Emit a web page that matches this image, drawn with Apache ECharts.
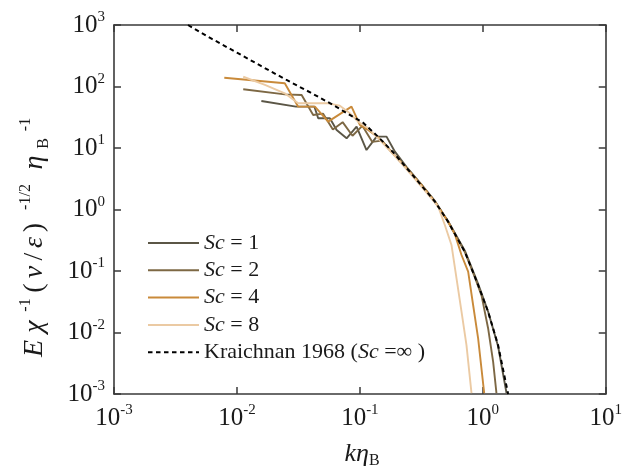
<!DOCTYPE html>
<html>
<head>
<meta charset="utf-8">
<script src="https://cdn.jsdelivr.net/npm/echarts@6/dist/echarts.min.js"></script>
<style>
  html, body { margin: 0; padding: 0; background: #fff; }
  #chart { width: 625px; height: 470px; }
</style>
</head>
<body>
<div id="chart"></div>
<script>
// Scalar spectra, normalised: E chi^-1 (nu/eps)^-1/2 eta_B^-1 versus k eta_B
const seriesNames = ['Sc = 1', 'Sc = 2', 'Sc = 4', 'Sc = 8', 'Kraichnan 1968 (Sc =\u221e )'];
const seriesColors = ['#5b5646', '#7d6844', '#c98a3a', '#ebcaa3', '#000000'];

const kSc1 = [0.0158, 0.0302, 0.0427, 0.0458, 0.0570, 0.0647, 0.0780, 0.0940, 0.1132, 0.1368, 0.1648, 0.1928, 0.240, 0.316, 0.407, 0.522, 0.714, 0.916, 1.104, 1.330, 1.560];
const eSc1 = [58.1, 47.0, 47.0, 30.4, 30.4, 19.6, 14.4, 22.2, 9.27, 15.3, 15.3, 8.71, 4.90, 2.57, 1.38, 0.646, 0.214, 0.0617, 0.0219, 0.00603, 0.00103];

const kSc2 = [0.01125, 0.0245, 0.0336, 0.0417, 0.0501, 0.0603, 0.0724, 0.0871, 0.1047, 0.1259, 0.1514, 0.182, 0.240, 0.316, 0.407, 0.522, 0.714, 0.861, 0.977, 1.104, 1.213, 1.291];
const eSc2 = [90.2, 74.6, 72.8, 34.4, 36.3, 19.95, 26.3, 15.8, 22.9, 12.6, 13.2, 8.51, 4.79, 2.51, 1.35, 0.631, 0.204, 0.0794, 0.0398, 0.01175, 0.00335, 0.00103];

const kSc4 = [0.00789, 0.0245, 0.0315, 0.0431, 0.0552, 0.0855, 0.100, 0.1175, 0.1413, 0.182, 0.240, 0.316, 0.407, 0.522, 0.592, 0.671, 0.760, 0.834, 0.916, 1.026];
const eSc4 = [139, 113, 47.0, 47.0, 26.8, 47.0, 23.7, 19.5, 14.8, 8.51, 4.68, 2.51, 1.35, 0.631, 0.398, 0.182, 0.0975, 0.0280, 0.00805, 0.00103];

const kSc8 = [0.01125, 0.0169, 0.0245, 0.0315, 0.0431, 0.0552, 0.0687, 0.0830, 0.0968, 0.117, 0.150, 0.181, 0.224, 0.271, 0.339, 0.434, 0.491, 0.556, 0.611, 0.671, 0.736, 0.809];
const eSc8 = [144, 106, 77.4, 53.3, 53.3, 53.3, 48.8, 36.6, 26.8, 20.9, 12.6, 8.51, 5.25, 3.39, 2.00, 1.11, 0.560, 0.265, 0.076, 0.0218, 0.00627, 0.00103];

const kKraichnan = [0.00400, 0.00631, 0.0100, 0.0158, 0.0251, 0.0398, 0.0570, 0.0794, 0.1064, 0.1413, 0.1866, 0.271, 0.339, 0.407, 0.522, 0.714, 0.916, 1.104, 1.330, 1.607];
const eKraichnan = [1000, 589, 355, 214, 129, 79.4, 53.7, 36.3, 25.7, 15.1, 8.51, 3.55, 2.09, 1.35, 0.634, 0.206, 0.0592, 0.0218, 0.00627, 0.00100];

// Decade tick exponents shown on the axes
const xTickExponents = [-3, -2, -1, 0, 1];
const yTickExponents = [-3, -2, -1, 0, 1, 2, 3];

const FONT = '"Liberation Serif", "Times New Roman", serif';
const INK = '#1a1a1a';
const AXIS = '#3a3a3a';

function pairs(ks, es) {
  return ks.map((k, i) => [k, es[i]]);
}

const curves = [
  pairs(kSc1, eSc1),
  pairs(kSc2, eSc2),
  pairs(kSc4, eSc4),
  pairs(kSc8, eSc8),
  pairs(kKraichnan, eKraichnan)
];

function decadeLabel(value) {
  const p = Math.round(Math.log10(value));
  return '{b|10}{s|' + (p < 0 ? '-' + (-p) : p) + '}';
}

const xMin = Math.pow(10, xTickExponents[0]);
const xMax = Math.pow(10, xTickExponents[xTickExponents.length - 1]);
const yMin = Math.pow(10, yTickExponents[0]);
const yMax = Math.pow(10, yTickExponents[yTickExponents.length - 1]);

function logAxis(extra) {
  return Object.assign({
    type: 'log',
    logBase: 10,
    splitLine: { show: false },
    minorTick: { show: false },
    axisLine: { show: true, lineStyle: { color: AXIS, width: 1.6 } },
    axisTick: { show: true, inside: true, length: 7, lineStyle: { color: AXIS, width: 1.5 } }
  }, extra);
}

const series = curves.map((data, i) => ({
  name: seriesNames[i],
  type: 'line',
  data: data,
  symbol: 'none',
  showSymbol: false,
  clip: true,
  z: i === 4 ? 5 : 2,
  lineStyle: i === 4
    ? { color: seriesColors[i], width: 2, type: [4.5, 3.5] }
    : { color: seriesColors[i], width: 1.9 },
  itemStyle: { color: seriesColors[i] }
}));

const chart = echarts.init(document.getElementById('chart'), null, { renderer: 'canvas' });

chart.setOption({
  animation: false,
  backgroundColor: '#ffffff',
  grid: { left: 114, right: 19, top: 25, bottom: 76, containLabel: false },
  xAxis: [
    logAxis({
      position: 'bottom',
      min: xMin, max: xMax,
      axisLabel: {
        show: true, margin: 9, showMinLabel: true, showMaxLabel: true,
        formatter: decadeLabel,
        rich: {
          b: { fontFamily: FONT, fontSize: 25, lineHeight: 30, color: INK },
          s: { fontFamily: FONT, fontSize: 15, lineHeight: 8, verticalAlign: 'top', color: INK }
        }
      }
    }),
    logAxis({ position: 'top', min: xMin, max: xMax, axisLabel: { show: false } })
  ],
  yAxis: [
    logAxis({
      position: 'left',
      min: yMin, max: yMax,
      axisLabel: {
        show: true, margin: 9, showMinLabel: true, showMaxLabel: true,
        formatter: decadeLabel,
        rich: {
          b: { fontFamily: FONT, fontSize: 25, lineHeight: 30, color: INK },
          s: { fontFamily: FONT, fontSize: 15, lineHeight: 17, verticalAlign: 'top', color: INK }
        }
      }
    }),
    logAxis({ position: 'right', min: yMin, max: yMax, axisLabel: { show: false } })
  ],
  legend: {
    show: true,
    orient: 'vertical',
    left: 147,
    top: 232,
    padding: 0,
    itemWidth: 51,
    itemHeight: 14,
    itemGap: 5.3,
    selectedMode: false,
    itemStyle: { opacity: 0, borderWidth: 0 },
    lineStyle: { opacity: 1 },
    data: seriesNames,
    formatter: name => name.replace('Sc', '{i|Sc}'),
    textStyle: {
      fontFamily: FONT, fontSize: 22, lineHeight: 22, color: INK,
      rich: {
        i: { fontFamily: FONT, fontSize: 22, lineHeight: 22, fontStyle: 'italic', color: INK }
      }
    }
  },
  graphic: [
    {
      type: 'text',
      x: 362, y: 454,
      silent: true,
      style: {
        text: '{i|k\u03b7}{sub|B}',
        align: 'center',
        verticalAlign: 'middle',
        rich: {
          i: { fontFamily: FONT, fontSize: 26, lineHeight: 30, fontStyle: 'italic', fill: INK },
          sub: { fontFamily: FONT, fontSize: 16, lineHeight: 14, verticalAlign: 'bottom', fill: INK }
        }
      }
    },
    {
      type: 'text',
      x: 35, y: 237,
      rotation: Math.PI / 2,
      silent: true,
      style: {
        text: '{e|E}{g1|\u03c7}{s1|-1}{p1|(}{g2|\u03bd}{sl|/}{g3|\u03b5}{p2|)}{s2|-1/2}{g4|\u03b7}{sb|B}{s3|-1}',
        align: 'center',
        verticalAlign: 'middle',
        rich: {
          e:  { fontFamily: FONT, fontSize: 28, lineHeight: 34, fontStyle: 'italic', fill: INK, width: 23 },
          g1: { fontFamily: FONT, fontSize: 28, lineHeight: 34, fontStyle: 'italic', fill: INK, width: 21 },
          s1: { fontFamily: FONT, fontSize: 16, lineHeight: 16, verticalAlign: 'top', fill: INK, width: 22 },
          p1: { fontFamily: FONT, fontSize: 28, lineHeight: 34, fill: INK, width: 12 },
          g2: { fontFamily: FONT, fontSize: 28, lineHeight: 34, fontStyle: 'italic', fill: INK, width: 20 },
          sl: { fontFamily: FONT, fontSize: 28, lineHeight: 34, fill: INK, width: 11 },
          g3: { fontFamily: FONT, fontSize: 28, lineHeight: 34, fontStyle: 'italic', fill: INK, width: 17 },
          p2: { fontFamily: FONT, fontSize: 28, lineHeight: 34, fill: INK, width: 13 },
          s2: { fontFamily: FONT, fontSize: 16, lineHeight: 16, verticalAlign: 'top', fill: INK, width: 48 },
          g4: { fontFamily: FONT, fontSize: 28, lineHeight: 34, fontStyle: 'italic', fill: INK, width: 21 },
          sb: { fontFamily: FONT, fontSize: 16, lineHeight: 22, verticalAlign: 'bottom', fill: INK, width: 17 },
          s3: { fontFamily: FONT, fontSize: 16, lineHeight: 16, verticalAlign: 'top', fill: INK, width: 21 }
        }
      }
    }
  ],
  series: series
});
</script>
</body>
</html>
